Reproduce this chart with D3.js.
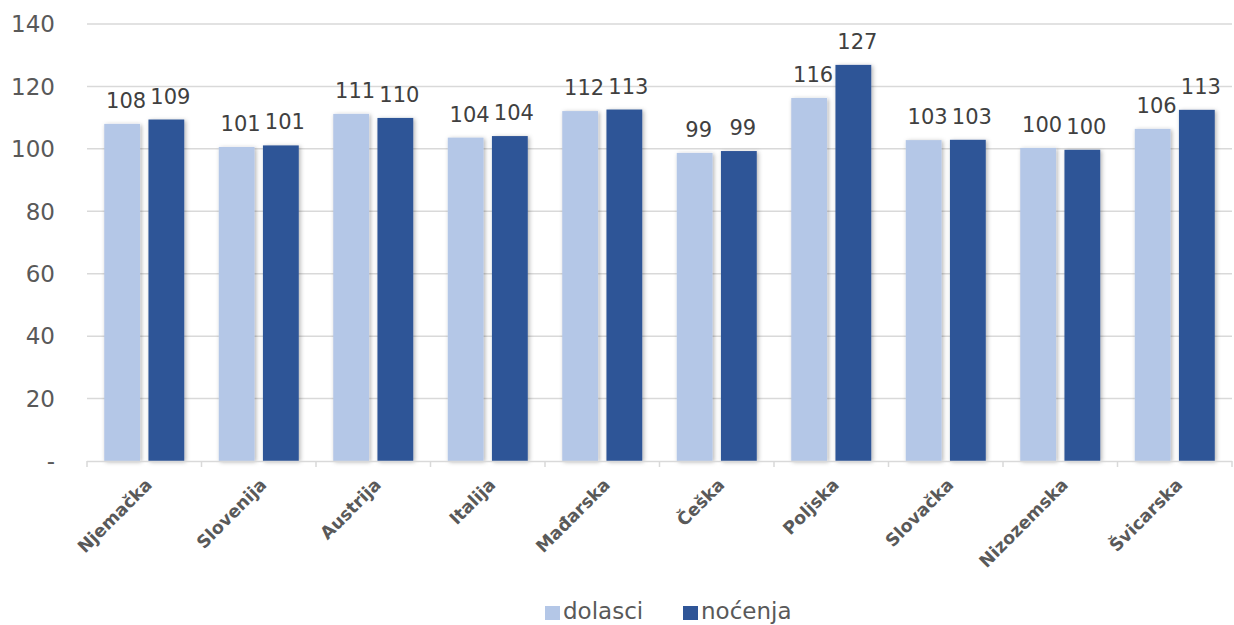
<!DOCTYPE html>
<html>
<head>
<meta charset="utf-8">
<script src="https://cdn.jsdelivr.net/npm/d3@7"></script>
<style>
  body { margin: 0; background: #fff; }
  svg { font-family: Verdana, "DejaVu Sans", sans-serif; }
</style>
</head>
<body>
<svg id="chart" width="1234" height="625"></svg>
<script>
// data
const categories = ['Njemačka', 'Slovenija', 'Austrija', 'Italija', 'Mađarska',
    'Češka', 'Poljska', 'Slovačka', 'Nizozemska', 'Švicarska']
const dolasci = [108.0, 100.6, 111.2, 103.6, 112.1, 98.7, 116.3, 102.8, 100.3, 106.4]
const nocenja = [109.4, 101.1, 109.9, 104.1, 112.6, 99.3, 126.9, 102.9, 99.7, 112.5]
const seriesNames = ['dolasci', 'noćenja']
const yTicks = [0, 20, 40, 60, 80, 100, 120, 140]

const colors = ['#b4c7e7', '#2f5597']

const svg = d3.select('#chart')
const margin = {left: 87, right: 2, top: 24, bottom: 164}
const W = 1234, H = 625
const plotBottom = H - margin.bottom

// soft shadow like the office chart
const defs = svg.append('defs')
const f = defs.append('filter').attr('id', 'shadow')
    .attr('x', '-30%').attr('y', '-10%').attr('width', '160%').attr('height', '130%')
f.append('feDropShadow')
    .attr('dx', 1.5).attr('dy', 1).attr('stdDeviation', 2.2)
    .attr('flood-color', '#000').attr('flood-opacity', 0.3)

let x = d3.scaleBand()
    .domain(categories)
    .range([margin.left, W - margin.right])

let xs = d3.scaleBand()
    .domain(seriesNames)
    .range([0, x.bandwidth()])
    .paddingInner(0.19)
    .paddingOuter(0.39)

let y = d3.scaleLinear()
    .domain([0, 140])
    .range([plotBottom, margin.top])

// gridlines
svg.append('g')
    .selectAll('line')
    .data(yTicks.filter(d => d > 0))
    .join('line')
    .attr('x1', margin.left).attr('x2', W - margin.right)
    .attr('y1', d => y(d)).attr('y2', d => y(d))
    .attr('stroke', '#d9d9d9').attr('stroke-width', 1.5)

// y labels
svg.append('g')
    .selectAll('text')
    .data(yTicks)
    .join('text')
    .attr('x', 55)
    .attr('y', d => y(d))
    .attr('dy', '0.36em')
    .attr('text-anchor', 'end')
    .attr('font-size', 23)
    .attr('fill', '#595959')
    .text(d => d === 0 ? '-' : d)

// bars
const rows = categories.map((c, i) => ({cat: c, vals: [dolasci[i], nocenja[i]]}))
const groups = svg.append('g')
    .selectAll('g')
    .data(rows)
    .join('g')
    .attr('transform', d => 'translate(' + x(d.cat) + ',0)')

groups.selectAll('rect')
    .data(d => d.vals.map((v, j) => ({s: seriesNames[j], v: v, j: j})))
    .join('rect')
    .attr('x', d => xs(d.s))
    .attr('width', xs.bandwidth())
    .attr('y', d => y(d.v))
    .attr('height', d => y(0) - y(d.v))
    .attr('fill', d => colors[d.j])
    .attr('filter', 'url(#shadow)')

groups.selectAll('text.val')
    .data(d => d.vals.map((v, j) => ({s: seriesNames[j], v: v, j: j})))
    .join('text')
    .attr('class', 'val')
    .attr('x', d => xs(d.s) + xs.bandwidth() / 2 + 4)
    .attr('y', d => y(d.v) - 16)
    .attr('text-anchor', 'middle')
    .attr('font-size', 21)
    .attr('fill', '#404040')
    .text(d => d3.format('.0f')(d.v))

// x axis line and ticks
const ax = svg.append('g')
ax.append('line')
    .attr('x1', margin.left).attr('x2', W - margin.right)
    .attr('y1', plotBottom + 0.5).attr('y2', plotBottom + 0.5)
    .attr('stroke', '#d9d9d9').attr('stroke-width', 1.5)
ax.selectAll('line.tick')
    .data(categories.map(c => x(c)).concat([W - margin.right]))
    .join('line')
    .attr('class', 'tick')
    .attr('x1', d => d).attr('x2', d => d)
    .attr('y1', plotBottom).attr('y2', plotBottom + 6)
    .attr('stroke', '#d9d9d9').attr('stroke-width', 1.5)

ax.selectAll('text')
    .data(categories)
    .join('text')
    .attr('transform', d => 'translate(' + (x(d) + x.bandwidth() / 2) + ',' + (plotBottom + 16) + ') rotate(-45)')
    .attr('text-anchor', 'end')
    .attr('dy', '0.72em')
    .attr('font-size', 17.5)
    .attr('font-weight', 'bold')
    .attr('fill', '#595959')
    .text(d => d)

// legend
const leg = svg.append('g')
const legItems = [{name: 'dolasci', x: 545}, {name: 'noćenja', x: 683}]
legItems.forEach((d, i) => {
    leg.append('rect')
        .attr('x', d.x).attr('y', 606)
        .attr('width', 15).attr('height', 14)
        .attr('fill', colors[i])
    leg.append('text')
        .attr('x', d.x + 18).attr('y', 619)
        .attr('font-size', 23)
        .attr('fill', '#595959')
        .text(d.name)
})
</script>
</body>
</html>
